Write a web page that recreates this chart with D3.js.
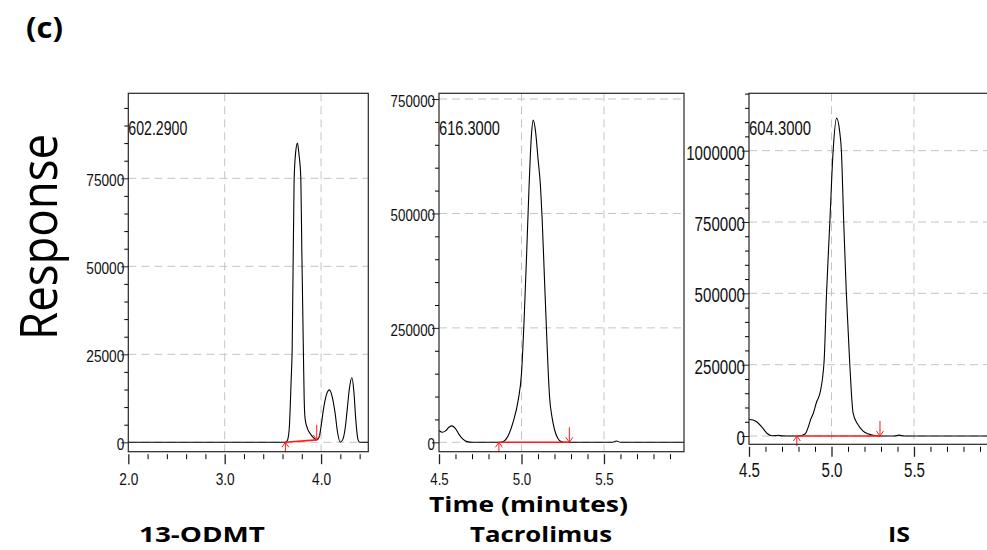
<!DOCTYPE html>
<html>
<head>
<meta charset="utf-8">
<script src="https://cdn.jsdelivr.net/npm/d3@7"></script>
<style>
  body { margin: 0; background: #fff; }
  .tick text { font-family: "Liberation Sans Narrow", "Liberation Sans", Arial, sans-serif; fill: #111; }
  .bold-label { font-family: "Open Sans", "Noto Sans", sans-serif; font-weight: bold; fill: #000; }
</style>
</head>
<body>
<div id="chart"></div>
<script>
var svgWidth = 987;
var svgHeight = 550;

// 13-ODMT trace (time in minutes, response)
var odmtTime = [2.0, 3.0, 3.6, 3.63, 3.65, 3.67, 3.69, 3.70, 3.72, 3.735, 3.755, 3.77, 3.79, 3.80, 3.817, 3.825, 3.835, 3.86, 3.887, 3.915, 3.94, 3.955, 3.98, 4.00, 4.02, 4.05, 4.087, 4.115, 4.146, 4.17, 4.198, 4.22, 4.25, 4.27, 4.295, 4.32, 4.34, 4.36, 4.38, 4.40, 4.49];
var odmtResp = [0, 0, 0, 0, 500, 4000, 18000, 26000, 74000, 82000, 85000, 82000, 75000, 55000, 25000, 12000, 6500, 3800, 2500, 1500, 900, 700, 1500, 4500, 8500, 13000, 14900, 13000, 8200, 3000, 100, 500, 4000, 9000, 15500, 18400, 14500, 6500, 1200, 0, 0];

// tacrolimus trace
var tacTime = [4.50, 4.52, 4.54, 4.56, 4.58, 4.60, 4.62, 4.645, 4.67, 4.70, 4.86, 4.89, 4.92, 4.95, 4.98, 5.00, 5.015, 5.03, 5.045, 5.06, 5.071, 5.085, 5.10, 5.115, 5.125, 5.14, 5.151, 5.16, 5.17, 5.185, 5.20, 5.22, 5.24, 5.27, 5.55, 5.575, 5.60, 5.985];
var tacResp = [26000, 22000, 25000, 33000, 36000, 30000, 18000, 7000, 1500, 0, 0, 2000, 15000, 45000, 92000, 150000, 260000, 400000, 550000, 670000, 704000, 680000, 620000, 560000, 490000, 350000, 250000, 170000, 100000, 55000, 28000, 9000, 2000, 0, 0, 3000, 0, 0];

// internal standard trace
var isTime = [4.50, 4.525, 4.546, 4.577, 4.61, 4.637, 4.66, 4.677, 4.70, 4.74, 4.80, 4.84, 4.86, 4.875, 4.89, 4.91, 4.93, 4.955, 4.97, 4.99, 5.01, 5.031, 5.05, 5.06, 5.074, 5.09, 5.111, 5.131, 5.16, 5.19, 5.22, 5.26, 5.30, 5.38, 5.41, 5.44, 5.985];
var isResp = [58000, 56000, 50000, 32000, 9000, 1000, 1500, 2500, 500, 0, 0, 7000, 33000, 60000, 80000, 120000, 150000, 260000, 500000, 750000, 1000000, 1114000, 1065000, 1000000, 750000, 500000, 250000, 80000, 40000, 18000, 8000, 2000, 0, 0, 3000, 0, 0];

// integration start / end points
var odmtBase = [[3.63, 0], [3.955, 700]];
var tacBase = [[4.863, 0], [5.29, 0]];
var isBase = [[4.79, 0], [5.294, 0]];

// tick values
var odmtXTicks = [2.0, 3.0, 4.0];
var odmtYTicks = [0, 25000, 50000, 75000];
var tacXTicks = [4.5, 5.0, 5.5];
var tacYTicks = [0, 250000, 500000, 750000];
var isXTicks = [4.5, 5.0, 5.5];
var isYTicks = [0, 250000, 500000, 750000, 1000000];

var compoundNames = ["13-ODMT", "Tacrolimus", "IS"];
var massLabels = ["602.2900", "616.3000", "604.3000"];

var svg = d3.select("#chart")
  .append("svg")
  .attr("width", svgWidth)
  .attr("height", svgHeight);

var panels = [
  {time: odmtTime, resp: odmtResp, base: odmtBase, xTicks: odmtXTicks, yTicks: odmtYTicks,
   xDomain: [2.0, 4.49], yDomain: [-2670, 99150], xMinor: 0.2, yMinor: 5000,
   left: 128.3, right: 368.3, top: 93.3, bottom: 451.7,
   fontSize: 17, digitW: 7.6, xLabelY: 30.5, massW: 59, nameX: 202, nameW: 126},
  {time: tacTime, resp: tacResp, base: tacBase, xTicks: tacXTicks, yTicks: tacYTicks,
   xDomain: [4.5, 5.985], yDomain: [-20500, 762500], xMinor: 0.1, yMinor: 50000,
   left: 439, right: 684, top: 93.3, bottom: 451.7,
   fontSize: 17, digitW: 7.4, xLabelY: 30.5, massW: 61, nameX: 541, nameW: 142},
  {time: isTime, resp: isResp, base: isBase, xTicks: isXTicks, yTicks: isYTicks,
   xDomain: [4.5, 5.985], yDomain: [-29000, 1201000], xMinor: 0.1, yMinor: 50000,
   left: 749, right: 994, top: 93.3, bottom: 444.3,
   fontSize: 20, digitW: 8.4, xLabelY: 30, massW: 62, nameX: 899, nameW: 22}
];

function textWidth(s, digitW) {
  var digits = s.replace(/[^0-9]/g, "").length;
  var dots = s.length - digits;
  return digits * digitW + dots * digitW / 2;
}

function minorTicks(lo, hi, step, majors) {
  var n = Math.floor((hi - lo) / step + 1e-6);
  var start = Math.ceil(lo / step - 1e-6);
  return d3.range(start, start + n + 1)
    .map(k => +(k * step).toFixed(4))
    .filter(v => v >= lo && v <= hi && majors.indexOf(v) < 0);
}

panels.forEach(function(p, i) {
  var x = d3.scaleLinear().domain(p.xDomain).range([p.left, p.right]);
  var y = d3.scaleLinear().domain(p.yDomain).range([p.bottom, p.top]);
  var g = svg.append("g");

  svg.append("clipPath")
    .attr("id", "clip" + i)
    .append("rect")
    .attr("x", p.left)
    .attr("y", p.top)
    .attr("width", p.right - p.left)
    .attr("height", p.bottom - p.top);

  //grid
  g.selectAll(".vgrid")
    .data(p.xTicks.filter(t => t > p.xDomain[0] + 1e-6))
    .enter()
    .append("line")
    .attr("x1", d => x(d))
    .attr("x2", d => x(d))
    .attr("y1", p.top)
    .attr("y2", p.bottom)
    .attr("stroke", "#c4c4c4")
    .attr("stroke-dasharray", "8,5");

  g.selectAll(".hgrid")
    .data(p.yTicks)
    .enter()
    .append("line")
    .attr("x1", p.left)
    .attr("x2", p.right)
    .attr("y1", d => y(d))
    .attr("y2", d => y(d))
    .attr("stroke", "#c4c4c4")
    .attr("stroke-dasharray", "8,5");

  //trace
  var line = d3.line()
    .x(d => x(d[0]))
    .y(d => y(d[1]))
    .curve(d3.curveMonotoneX);

  g.append("path")
    .datum(d3.zip(p.time, p.resp))
    .attr("clip-path", "url(#clip" + i + ")")
    .attr("d", line)
    .attr("fill", "none")
    .attr("stroke", "#000")
    .attr("stroke-width", 1.1);

  //integration baseline + arrows
  var s = p.base[0], e = p.base[1];
  g.append("line")
    .attr("x1", x(s[0])).attr("y1", y(s[1]))
    .attr("x2", x(e[0])).attr("y2", y(e[1]))
    .attr("stroke", "#ff1a1a")
    .attr("stroke-width", 1.6);

  var ax = x(s[0]), ay = y(s[1]);
  g.append("path")
    .attr("d", `M${ax},${ay + 10}L${ax},${ay}M${ax - 3.5},${ay + 5}L${ax},${ay}L${ax + 3.5},${ay + 5}`)
    .attr("fill", "none")
    .attr("stroke", "#ff1a1a");

  var bx = x(e[0]), by = y(e[1]);
  g.append("path")
    .attr("d", `M${bx},${by - 15}L${bx},${by}M${bx - 3.5},${by - 5}L${bx},${by}L${bx + 3.5},${by - 5}`)
    .attr("fill", "none")
    .attr("stroke", "#ff1a1a");

  //frame
  g.append("rect")
    .attr("x", p.left)
    .attr("y", p.top)
    .attr("width", p.right - p.left)
    .attr("height", p.bottom - p.top)
    .attr("fill", "none")
    .attr("stroke", "#262626")
    .attr("stroke-width", 1.2);

  //y axis
  var yMinorTicks = minorTicks(0, p.yDomain[1], p.yMinor, p.yTicks);
  g.append("g")
    .attr("transform", `translate(${p.left}, 0)`)
    .call(d3.axisLeft(y).tickValues(yMinorTicks).tickSize(4).tickFormat(""))
    .call(a => a.select(".domain").remove());

  var yAxis = g.append("g")
    .attr("transform", `translate(${p.left}, 0)`)
    .call(d3.axisLeft(y).tickValues(p.yTicks).tickSize(7).tickPadding(-3).tickFormat(d3.format("d")));
  yAxis.select(".domain").remove();
  yAxis.selectAll(".tick line").attr("stroke", "#222");
  yAxis.selectAll(".tick text")
    .attr("font-size", p.fontSize)
    .attr("dy", "0.42em")
    .attr("textLength", function() { return textWidth(this.textContent, p.digitW); })
    .attr("lengthAdjust", "spacingAndGlyphs");

  //x axis
  var xMinorTicks = minorTicks(p.xDomain[0], p.xDomain[1], p.xMinor, p.xTicks);
  g.append("g")
    .attr("transform", `translate(0, ${p.bottom + 2.5})`)
    .call(d3.axisBottom(x).tickValues(xMinorTicks).tickSize(5).tickFormat(""))
    .call(a => a.select(".domain").remove());

  var xAxis = g.append("g")
    .attr("transform", `translate(0, ${p.bottom + 2.5})`)
    .call(d3.axisBottom(x).tickValues(p.xTicks).tickSize(10).tickFormat(d3.format(".1f")));
  xAxis.select(".domain").remove();
  xAxis.selectAll(".tick line").attr("stroke", "#222").attr("stroke-width", 1.3);
  xAxis.selectAll(".tick text")
    .attr("font-size", p.fontSize)
    .attr("y", p.xLabelY)
    .attr("dy", null)
    .attr("textLength", function() { return textWidth(this.textContent, p.digitW); })
    .attr("lengthAdjust", "spacingAndGlyphs");

  //mass label
  g.append("text")
    .attr("x", p.left)
    .attr("y", 135)
    .attr("font-family", "'Liberation Sans Narrow', 'Liberation Sans', Arial, sans-serif")
    .attr("font-size", 20)
    .attr("textLength", p.massW)
    .attr("lengthAdjust", "spacingAndGlyphs")
    .attr("fill", "#111")
    .text(massLabels[i]);

  //compound name
  svg.append("text")
    .attr("class", "bold-label")
    .attr("x", p.nameX)
    .attr("y", 541.7)
    .attr("text-anchor", "middle")
    .attr("font-size", 21)
    .attr("textLength", p.nameW)
    .attr("lengthAdjust", "spacingAndGlyphs")
    .text(compoundNames[i]);
});

// panel tag
svg.append("text")
  .attr("class", "bold-label")
  .attr("x", 26)
  .attr("y", 38)
  .attr("font-size", 28)
  .attr("textLength", 37)
  .attr("lengthAdjust", "spacingAndGlyphs")
  .text("(c)");

//axes labels
svg.append("text")
  .attr("transform", "translate(57, 237) rotate(-90)")
  .attr("text-anchor", "middle")
  .attr("font-family", "'Open Sans', 'Noto Sans', sans-serif")
  .attr("font-size", 52)
  .attr("textLength", 206)
  .attr("lengthAdjust", "spacingAndGlyphs")
  .attr("fill", "#000")
  .text("Response");

svg.append("text")
  .attr("class", "bold-label")
  .attr("x", 528.5)
  .attr("y", 512)
  .attr("text-anchor", "middle")
  .attr("font-size", 22)
  .attr("textLength", 199)
  .attr("lengthAdjust", "spacingAndGlyphs")
  .text("Time (minutes)");
</script>
</body>
</html>
